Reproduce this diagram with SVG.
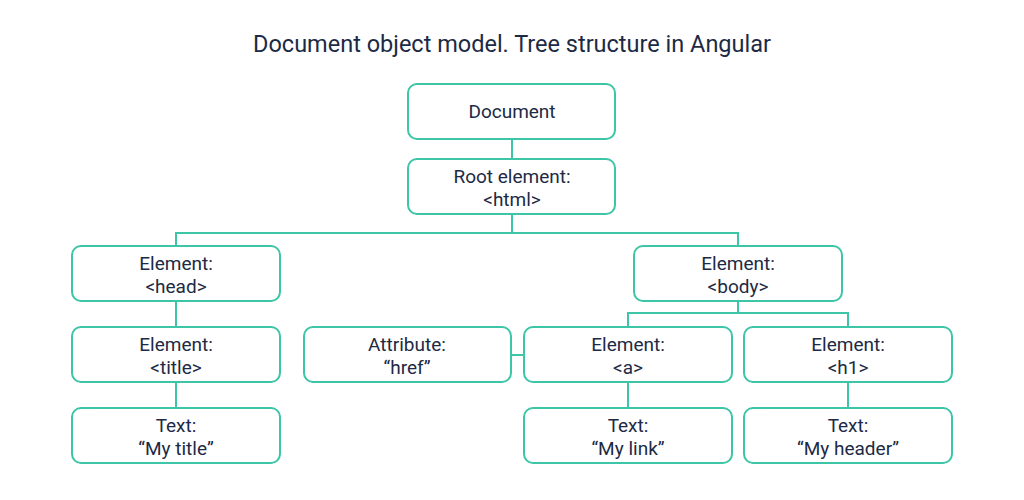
<svg xmlns="http://www.w3.org/2000/svg" width="1024" height="500" viewBox="0 0 1024 500">
<style>
.box{fill:#fff;stroke:#3cc5a6;stroke-width:2}
.ln{fill:none;stroke:#3cc5a6;stroke-width:2}
text{font-family:Roboto,"Liberation Sans",sans-serif;fill:#1d2a45;text-anchor:middle}
.t{font-size:19px}
.title{font-size:23.5px}
</style>
<rect width="1024" height="500" fill="#fff"/>
<text class="title" x="512" y="52">Document object model. Tree structure in Angular</text>
<g id="connectors">
<path class="ln" d="M512 140V159"/>
<path class="ln" d="M512 214V233M176 246V233H738V246"/>
<path class="ln" d="M176 301V327M176 383V408"/>
<path class="ln" d="M738 301V313M628 327V313H848V327"/>
<path class="ln" d="M511 355H524"/>
<path class="ln" d="M628 382V408M848 382V408"/>
</g>
<g id="document"><rect class="box" x="408" y="84" width="207" height="55" rx="9"/><text class="t" x="512" y="118">Document</text></g>
<g id="root"><rect class="box" x="408" y="159" width="207" height="55" rx="9"/><text class="t" x="512" y="183">Root element:</text><text class="t" x="512" y="206">&lt;html&gt;</text></g>
<g id="head"><rect class="box" x="72" y="246" width="208" height="55" rx="9"/><text class="t" x="176" y="270">Element:</text><text class="t" x="176" y="293">&lt;head&gt;</text></g>
<g id="body"><rect class="box" x="634" y="246" width="208" height="55" rx="9"/><text class="t" x="738" y="270">Element:</text><text class="t" x="738" y="293">&lt;body&gt;</text></g>
<g id="title"><rect class="box" x="72" y="327" width="208" height="55" rx="9"/><text class="t" x="176" y="351">Element:</text><text class="t" x="176" y="374">&lt;title&gt;</text></g>
<g id="attr"><rect class="box" x="304" y="327" width="207" height="55" rx="9"/><text class="t" x="407" y="351">Attribute:</text><text class="t" x="407" y="374">“href”</text></g>
<g id="a"><rect class="box" x="524" y="327" width="208" height="55" rx="9"/><text class="t" x="628" y="351">Element:</text><text class="t" x="628" y="374">&lt;a&gt;</text></g>
<g id="h1"><rect class="box" x="744" y="327" width="208" height="55" rx="9"/><text class="t" x="848" y="351">Element:</text><text class="t" x="848" y="374">&lt;h1&gt;</text></g>
<g id="text-title"><rect class="box" x="72" y="408" width="208" height="55" rx="9"/><text class="t" x="176" y="432">Text:</text><text class="t" x="176" y="455">“My title”</text></g>
<g id="text-link"><rect class="box" x="524" y="408" width="208" height="55" rx="9"/><text class="t" x="628" y="432">Text:</text><text class="t" x="628" y="455">“My link”</text></g>
<g id="text-header"><rect class="box" x="744" y="408" width="208" height="55" rx="9"/><text class="t" x="848" y="432">Text:</text><text class="t" x="848" y="455">“My header”</text></g>
</svg>
